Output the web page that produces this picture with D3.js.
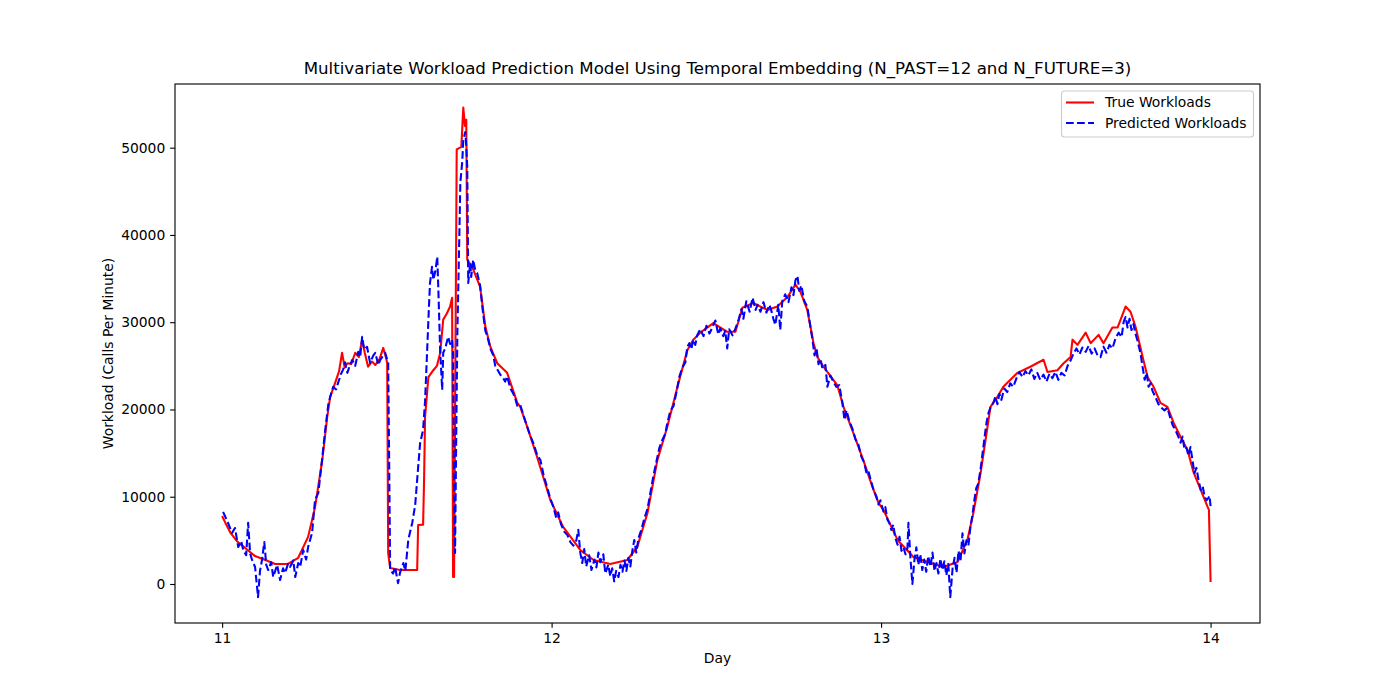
<!DOCTYPE html>
<html>
<head>
<meta charset="utf-8">
<script src="https://cdn.jsdelivr.net/npm/d3@7"></script>
<style>
  body { margin: 0; background: #fff; }
  svg { font-family: "DejaVu Sans", sans-serif; }
</style>
</head>
<body>
<div id="chart"></div>
<script>
// ---------------- DATA ----------------
const titleText = "Multivariate Workload Prediction Model Using Temporal Embedding (N_PAST=12 and N_FUTURE=3)";
const xLabel = "Day";
const yLabel = "Workload (Calls Per Minute)";
const seriesNames = ["True Workloads", "Predicted Workloads"];
const xTicks = [11, 12, 13, 14];
const yTicks = [0, 10000, 20000, 30000, 40000, 50000];

const trueDay = [
  11.000,11.010,11.025,11.045,11.070,11.100,11.131,11.161,11.200,11.231,
  11.261,11.282,11.304,11.319,11.328,11.343,11.355,11.364,11.372,11.380,
  11.392,11.404,11.415,11.425,11.433,11.443,11.455,11.465,11.478,11.489,
  11.497,11.501,11.504,11.510,11.540,11.592,11.595,11.610,11.613,11.616,
  11.626,11.641,11.652,11.662,11.671,11.682,11.692,11.698,11.701,11.704,
  11.712,11.726,11.732,11.737,11.741,11.744,11.759,11.783,11.799,11.814,
  11.835,11.865,11.896,11.905,11.926,11.956,11.996,12.035,12.087,12.127,
  12.178,12.230,12.260,12.291,12.321,12.351,12.382,12.412,12.430,12.451,
  12.491,12.533,12.558,12.579,12.612,12.655,12.685,12.716,12.740,12.755,
  12.776,12.795,12.807,12.825,12.867,12.886,12.916,12.946,12.974,12.992,
  13.007,13.050,13.098,13.150,13.189,13.232,13.262,13.280,13.302,13.317,
  13.332,13.353,13.371,13.414,13.453,13.493,13.505,13.535,13.554,13.575,
  13.581,13.596,13.621,13.636,13.660,13.675,13.702,13.718,13.742,13.757,
  13.772,13.794,13.809,13.827,13.848,13.869,13.888,13.909,13.930,13.948,
  13.970,13.991,13.995,14.000
];
const trueVal = [
  7800,7000,5900,4900,4130,3200,2750,2300,2300,3000,
  5400,8800,14200,19150,21450,23050,24400,26500,24800,25300,
  25200,26500,26000,28000,26500,24900,25500,25100,25800,27060,
  26000,25300,3550,1830,1600,1600,6770,6800,12000,19150,
  23700,24500,25000,26500,30300,31000,31800,32800,800,800,
  49800,50100,54600,52500,53200,37150,36350,34060,29470,27200,
  25300,24200,20760,20300,18000,14560,9630,6540,3900,2750,
  2300,2750,4240,8140,14200,18000,22600,26800,28000,28800,
  29900,28900,28900,31650,32200,31400,31800,32900,34300,33500,
  31400,27600,26000,24900,22800,20300,17300,14200,11100,9300,
  8490,5050,3100,2400,1950,2520,5050,8140,12700,16500,
  20300,21450,22600,24200,24900,25700,24300,24500,25300,26000,
  28000,27400,28800,27600,28550,27600,29400,29400,31800,31200,
  29500,26000,23700,22600,20760,20300,18460,16860,15370,12840,
  10780,8830,8490,230
];

const predDay = [
  11.003,11.018,11.030,11.039,11.049,11.058,11.064,11.073,11.079,11.085,
  11.091,11.100,11.109,11.115,11.121,11.128,11.134,11.140,11.149,11.155,
  11.167,11.176,11.185,11.191,11.200,11.206,11.216,11.222,11.231,11.237,
  11.246,11.255,11.261,11.273,11.282,11.292,11.304,11.313,11.322,11.328,
  11.337,11.346,11.352,11.361,11.367,11.373,11.380,11.389,11.395,11.404,
  11.413,11.419,11.425,11.431,11.440,11.449,11.459,11.465,11.474,11.480,
  11.489,11.495,11.504,11.507,11.510,11.519,11.525,11.531,11.534,11.540,
  11.550,11.556,11.565,11.577,11.586,11.595,11.601,11.610,11.616,11.622,
  11.628,11.631,11.637,11.641,11.647,11.653,11.656,11.662,11.668,11.671,
  11.677,11.686,11.692,11.698,11.701,11.704,11.707,11.710,11.714,11.720,
  11.723,11.729,11.732,11.738,11.741,11.744,11.747,11.753,11.756,11.762,
  11.768,11.774,11.783,11.792,11.799,11.805,11.814,11.823,11.829,11.835,
  11.844,11.853,11.859,11.865,11.875,11.884,11.890,11.896,11.905,11.914,
  11.926,11.935,11.944,11.956,11.966,11.975,11.987,11.996,12.005,12.014,
  12.020,12.029,12.038,12.048,12.057,12.066,12.075,12.081,12.087,12.093,
  12.099,12.105,12.114,12.121,12.130,12.136,12.142,12.148,12.157,12.163,
  12.172,12.178,12.184,12.190,12.196,12.203,12.209,12.215,12.221,12.227,
  12.233,12.239,12.245,12.251,12.257,12.264,12.273,12.282,12.291,12.300,
  12.309,12.318,12.327,12.336,12.345,12.351,12.360,12.370,12.379,12.388,
  12.397,12.406,12.412,12.418,12.424,12.430,12.436,12.442,12.451,12.461,
  12.470,12.479,12.488,12.497,12.506,12.512,12.521,12.527,12.533,12.539,
  12.549,12.558,12.567,12.576,12.582,12.591,12.601,12.610,12.619,12.625,
  12.634,12.643,12.652,12.661,12.667,12.673,12.679,12.688,12.694,12.700,
  12.709,12.719,12.728,12.734,12.740,12.746,12.752,12.758,12.767,12.776,
  12.785,12.791,12.798,12.804,12.810,12.816,12.822,12.831,12.837,12.846,
  12.855,12.864,12.873,12.882,12.889,12.895,12.904,12.913,12.922,12.931,
  12.940,12.949,12.955,12.961,12.968,12.977,12.986,12.992,12.998,13.007,
  13.013,13.019,13.025,13.031,13.037,13.043,13.050,13.056,13.062,13.068,
  13.074,13.080,13.083,13.089,13.095,13.101,13.107,13.113,13.119,13.125,
  13.131,13.137,13.143,13.150,13.156,13.162,13.168,13.174,13.180,13.186,
  13.192,13.198,13.204,13.210,13.217,13.223,13.229,13.235,13.241,13.247,
  13.253,13.259,13.265,13.271,13.277,13.283,13.289,13.295,13.302,13.308,
  13.314,13.320,13.326,13.332,13.341,13.347,13.353,13.359,13.365,13.374,
  13.383,13.392,13.401,13.411,13.420,13.429,13.438,13.447,13.456,13.465,
  13.474,13.483,13.493,13.502,13.511,13.520,13.529,13.538,13.547,13.557,
  13.566,13.575,13.584,13.593,13.602,13.611,13.621,13.630,13.639,13.648,
  13.657,13.666,13.675,13.684,13.693,13.702,13.712,13.721,13.730,13.736,
  13.742,13.748,13.754,13.760,13.766,13.772,13.778,13.787,13.794,13.800,
  13.806,13.812,13.818,13.824,13.833,13.842,13.851,13.860,13.869,13.878,
  13.885,13.894,13.903,13.909,13.915,13.921,13.927,13.933,13.939,13.945,
  13.951,13.957,13.963,13.970,13.976,13.982,13.988,13.994,13.997,14.000
];
const predVal = [
  8260,7000,5850,6420,4240,4900,3900,3300,7000,3500,
  2750,1950,-1500,1500,2750,4800,2200,1600,2500,800,
  2180,460,1800,1260,2300,1950,2700,800,2400,1950,
  3900,2800,4240,5850,9630,10440,14500,17660,20500,21450,
  22600,22300,23050,24100,24540,25400,24200,25200,25690,25000,
  26600,26000,28330,26900,27180,25340,26200,26490,25100,25690,
  26200,26490,25340,14000,1600,1200,1950,700,100,1300,
  2400,1500,5050,7000,9060,13400,16170,17660,21000,26500,
  32000,34500,36350,34860,35800,37500,34060,26500,22250,26500,
  27000,28330,27500,27980,26500,10000,3550,15000,28800,40000,
  46000,48500,50900,51800,50200,47800,34500,36800,35200,37150,
  36000,35660,34200,31000,29000,28400,27000,26200,25000,24600,
  24000,23600,23200,23800,22400,21800,21200,20400,20500,19400,
  18000,17000,16200,14800,14200,12600,11000,9800,8900,7600,
  8200,6800,6000,5600,4800,4400,5000,6200,3600,2400,
  4000,2000,3300,1600,2800,1900,3600,2500,3400,1200,
  2200,900,1800,300,1500,800,2200,1400,2700,1500,
  3000,2000,3800,5050,3600,5300,6300,7600,8600,10500,
  12400,14000,15600,16500,17200,18400,19800,20400,22000,23800,
  24800,25400,27200,27600,26900,28000,27400,28500,29200,28400,
  29600,28700,29400,30200,28600,29300,28400,29000,27000,29200,
  28500,29300,30200,31500,30400,32400,31200,32800,31400,32000,
  31200,32300,31100,32000,31300,30400,29700,32000,29100,32400,
  33200,32300,34000,33100,34800,35300,33600,34200,32400,31800,
  29600,28200,26200,27000,25200,25800,24700,25100,22600,23900,
  23200,22600,22800,20900,18800,19900,18600,17800,16600,16000,
  14600,13900,12800,13000,12000,10800,10000,9100,9600,8300,
  8800,7400,7000,6200,6800,5300,4500,5400,3800,4200,
  3400,4100,7000,3000,0,2700,4200,2200,3400,1600,
  2800,1400,3200,2000,3600,1500,2400,1200,2900,1600,
  2600,1000,2300,-1500,1800,3000,1300,3800,2600,5800,
  3500,5000,4400,6500,7800,9600,11000,11500,13200,15000,
  16800,18500,19600,20200,20800,21500,20600,21800,21100,22400,
  22000,23000,22600,23600,24300,23700,24400,23900,24600,23500,
  24200,23400,24000,23200,24100,23600,24300,23400,24200,23900,
  25000,25600,26400,27000,26300,27100,26600,27300,26400,27000,
  26200,26000,27200,26500,27400,27000,28200,28800,28300,30000,
  30600,29400,30400,29100,29800,28700,27900,26500,24800,23400,
  24200,22600,23000,22100,21400,20600,20200,19900,20200,19000,
  18200,17600,16800,16200,16900,15400,15600,14700,15700,14200,
  12700,13300,12000,10800,11200,10000,9600,9900,10100,8900
];

// ---------------- LAYOUT ----------------
const W = 1400, H = 700;
const m = { left: 175, right: 1260, top: 84, bottom: 623 };
const PT = 100 / 72;

const svg = d3.select("#chart").append("svg")
  .attr("width", W).attr("height", H)
  .style("background", "#fff");

const x = d3.scaleLinear().domain([10.857, 14.150]).range([m.left, m.right]);
const y = d3.scaleLinear().domain([-4470, 57300]).range([m.bottom, m.top]);

const clip = svg.append("defs").append("clipPath").attr("id", "clip")
  .append("rect").attr("x", m.left).attr("y", m.top)
  .attr("width", m.right - m.left).attr("height", m.bottom - m.top);

const trueData = trueDay.map((d, i) => ({ x: d, y: trueVal[i] }));
const predData = predDay.map((d, i) => ({ x: d, y: predVal[i] }));

const line = d3.line().x(d => x(d.x)).y(d => y(d.y));

const g = svg.append("g").attr("clip-path", "url(#clip)");
g.append("path").datum(trueData)
  .attr("d", line).attr("fill", "none")
  .attr("stroke", "#ff0000").attr("stroke-width", 1.5 * PT)
  .attr("stroke-linejoin", "round").attr("stroke-linecap", "butt");
g.append("path").datum(predData)
  .attr("d", line).attr("fill", "none")
  .attr("stroke", "#0000ff").attr("stroke-width", 1.5 * PT)
  .attr("stroke-dasharray", `${5.55 * PT},${2.4 * PT}`)
  .attr("stroke-linejoin", "round").attr("stroke-linecap", "butt");

// axes
const fontPx = 10 * PT;
const xAxis = d3.axisBottom(x).tickValues(xTicks).tickFormat(d3.format("d"))
  .tickSizeInner(3.5 * PT).tickSizeOuter(0).tickPadding(3.5 * PT);
const yAxis = d3.axisLeft(y).tickValues(yTicks).tickFormat(d3.format("d"))
  .tickSizeInner(3.5 * PT).tickSizeOuter(0).tickPadding(3.5 * PT);

const gx = svg.append("g").attr("transform", `translate(0,${m.bottom})`).call(xAxis);
const gy = svg.append("g").attr("transform", `translate(${m.left},0)`).call(yAxis);
[gx, gy].forEach(a => {
  a.select(".domain").remove();
  a.selectAll(".tick line").attr("stroke", "#000").attr("stroke-width", 0.8 * PT);
  a.selectAll(".tick text").attr("fill", "#000")
    .style("font-family", "DejaVu Sans").style("font-size", fontPx + "px");
});

// spines
svg.append("rect")
  .attr("x", m.left).attr("y", m.top)
  .attr("width", m.right - m.left).attr("height", m.bottom - m.top)
  .attr("fill", "none").attr("stroke", "#000").attr("stroke-width", 0.8 * PT);

// title and labels
svg.append("text")
  .attr("x", (m.left + m.right) / 2).attr("y", m.top - 6 * PT - 2)
  .attr("text-anchor", "middle")
  .style("font-size", (12 * PT) + "px").attr("fill", "#000")
  .text(titleText);

svg.append("text")
  .attr("x", (m.left + m.right) / 2).attr("y", 663)
  .attr("text-anchor", "middle")
  .style("font-size", fontPx + "px").attr("fill", "#000")
  .text(xLabel);

svg.append("text")
  .attr("transform", `translate(113,${(m.top + m.bottom) / 2}) rotate(-90)`)
  .attr("text-anchor", "middle")
  .style("font-size", fontPx + "px").attr("fill", "#000")
  .text(yLabel);

// legend
const lg = svg.append("g");
lg.append("rect")
  .attr("x", 1061.5).attr("y", 91).attr("width", 192).attr("height", 46)
  .attr("rx", 3).attr("ry", 3)
  .attr("fill", "#fff").attr("fill-opacity", 0.8)
  .attr("stroke", "#cccccc").attr("stroke-width", 0.8 * PT);
const legendStyles = [
  { color: "#ff0000", dash: null },
  { color: "#0000ff", dash: `${5.55 * PT},${2.4 * PT}` }
];
seriesNames.forEach((name, i) => {
  const cy = 102.5 + i * 20.5;
  const l = lg.append("line")
    .attr("x1", 1066).attr("x2", 1094).attr("y1", cy).attr("y2", cy)
    .attr("stroke", legendStyles[i].color).attr("stroke-width", 1.5 * PT);
  if (legendStyles[i].dash) l.attr("stroke-dasharray", legendStyles[i].dash);
  lg.append("text")
    .attr("x", 1105).attr("y", cy).attr("dy", "0.35em")
    .style("font-size", fontPx + "px").attr("fill", "#000")
    .text(name);
});
</script>
</body>
</html>
